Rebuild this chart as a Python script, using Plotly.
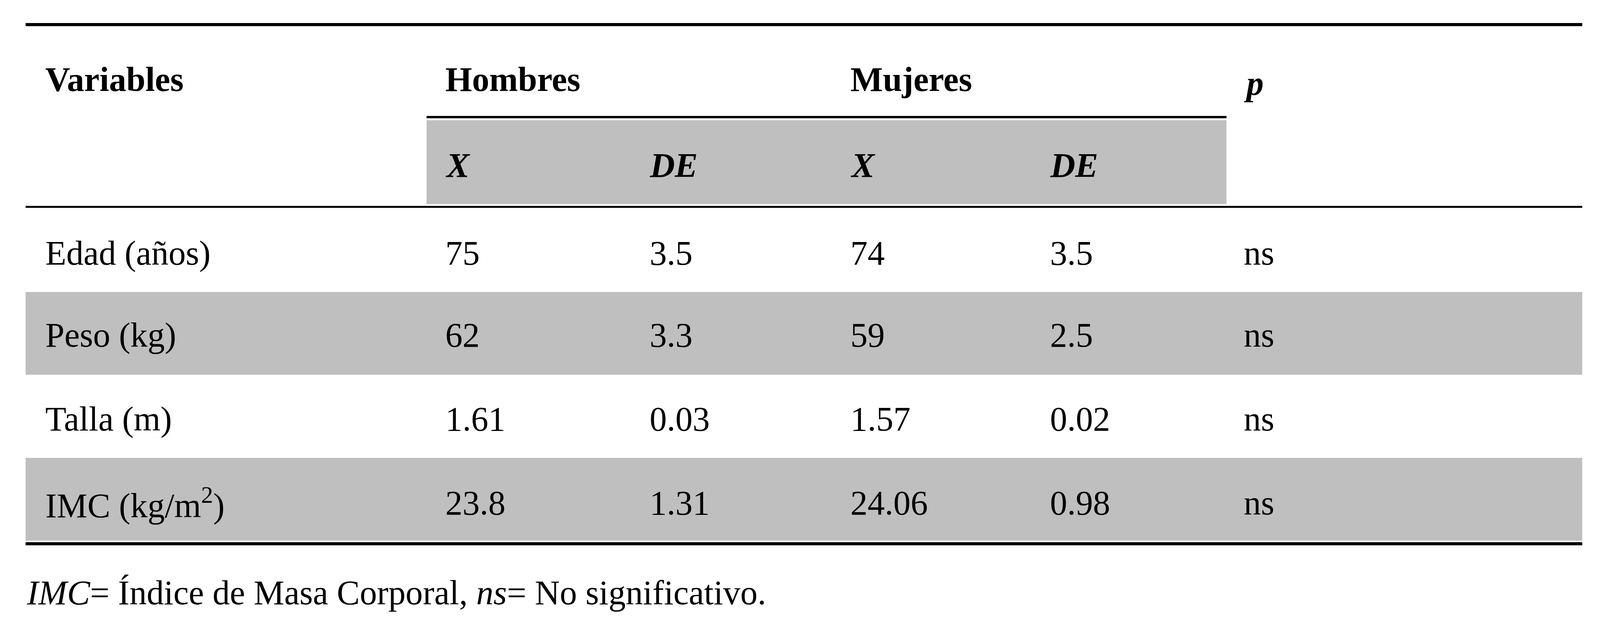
import plotly.graph_objects as go

variables = ["Edad (años)", "Peso (kg)", "Talla (m)", "IMC (kg/m<sup>2</sup>)"]
hombres_x = ["75", "62", "1.61", "23.8"]
hombres_de = ["3.5", "3.3", "0.03", "1.31"]
mujeres_x = ["74", "59", "1.57", "24.06"]
mujeres_de = ["3.5", "2.5", "0.02", "0.98"]
p_vals = ["ns", "ns", "ns", "ns"]
footnote = "<i>IMC</i>= Índice de Masa Corporal, <i>ns</i>= No significativo."

W, H = 6975, 1637
FONT = "Liberation Serif"
FS = 150
col_x = [180, 1925, 2815, 3690, 4560, 5405]
row_y = [640, 850, 1065, 1280]
shapes = []
shapes.append(dict(type="rect", x0=1846, x1=5333, y0=300, y1=515, fillcolor="#bfbfbf", line_width=0, layer="below"))
for r in (1, 3):
    y0 = [530, 740, 950, 1165][r]
    shapes.append(dict(type="rect", x0=98, x1=6884, y0=y0, y1=y0+212, fillcolor="#bfbfbf", line_width=0, layer="below"))
for (x0, x1, y, w) in [(98, 6884, 55, 8), (1846, 5333, 292, 6), (98, 6884, 522, 5), (98, 6884, 1385, 8)]:
    shapes.append(dict(type="line", x0=x0, x1=x1, y0=y, y1=y, line=dict(color="black", width=w)))

ann = []
def t(x, y, s, bold=False, italic=False, size=FS):
    if italic: s = f"<i>{s}</i>"
    if bold: s = f"<b>{s}</b>"
    ann.append(dict(x=x, y=y, text=s, showarrow=False, xanchor="left", yanchor="middle",
                    font=dict(family=FONT, size=size, color="black")))
t(180, 195, "Variables", bold=True)
t(1925, 195, "Hombres", bold=True)
t(3690, 195, "Mujeres", bold=True)
t(5405, 205, "p", bold=True, italic=True)
for x, s in zip(col_x[1:5], ["X", "DE", "X", "DE"]):
    t(x, 415, s, bold=True, italic=True)
cols = [variables, hombres_x, hombres_de, mujeres_x, mujeres_de, p_vals]
for ci, col in enumerate(cols):
    for ri, v in enumerate(col):
        t(col_x[ci] if ci else 180, row_y[ri], v)
t(98, 1510, footnote)

fig = go.Figure()
fig.update_layout(autosize=True, margin=dict(l=0, r=0, t=0, b=0),
                  plot_bgcolor="white", paper_bgcolor="white", shapes=shapes, annotations=ann,
                  xaxis=dict(range=[0, W], visible=False, fixedrange=True),
                  yaxis=dict(range=[H, 0], visible=False, fixedrange=True))
post = """
var gd = document.getElementById('{plot_id}');
function fit(){
  var w = window.innerWidth, h = window.innerHeight;
  var s = Math.min(w / %d, h / %d);
  var upd = {width: w, height: h};
  (gd.layout.annotations || []).forEach(function(a, i){
    upd['annotations[' + i + '].font.size'] = %d * s;
  });
  Plotly.relayout(gd, upd);
}
fit();
""" % (W, H, FS)
fig.write_html("out.html", post_script=post, config={"responsive": True},
               default_width="100vw", default_height="100vh", full_html=True)
